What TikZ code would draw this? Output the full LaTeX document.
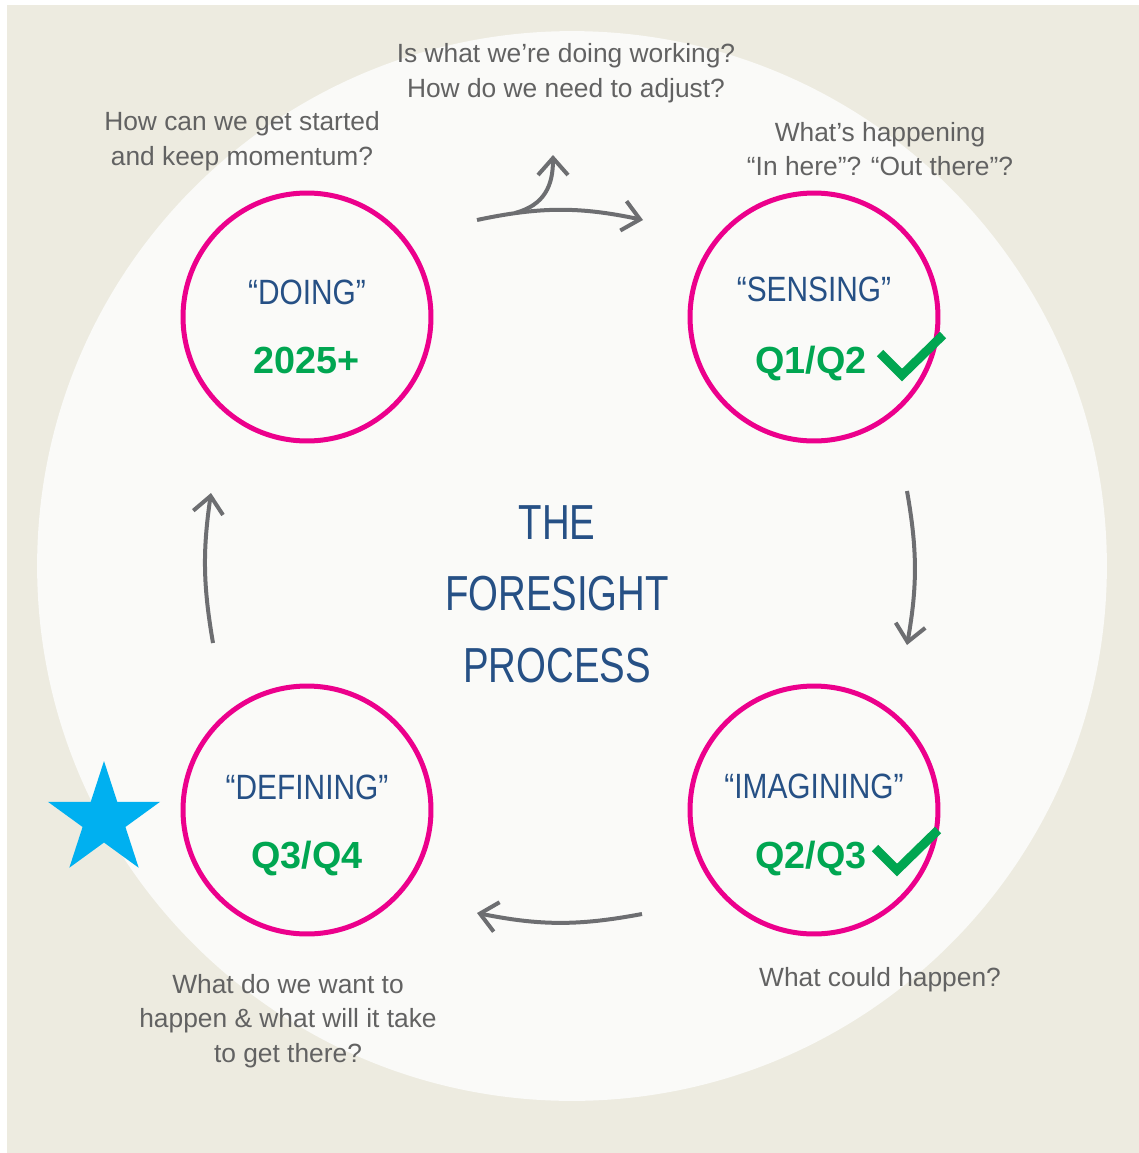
\documentclass[tikz,border=0pt]{standalone}
\usepackage{fontspec}
\setmainfont{Liberation Sans}
\newfontfamily\stagefont{Liberation Sans}[FakeStretch=0.85]
\newfontfamily\titlefont{Liberation Sans}[FakeStretch=0.78]
\usetikzlibrary{shapes.geometric,arrows.meta}
\definecolor{bgbeige}{RGB}{237,235,224}
\definecolor{disc}{RGB}{250,250,248}
\definecolor{ringpink}{RGB}{236,0,140}
\definecolor{navy}{RGB}{38,80,133}
\definecolor{okgreen}{RGB}{0,166,81}
\definecolor{starblue}{RGB}{0,176,240}
\definecolor{askgray}{RGB}{98,98,98}
\definecolor{arrowgray}{RGB}{109,110,113}
\tikzset{
  stage/.style={circle,draw=ringpink,line width=0.1cm,minimum size=4.96cm,inner sep=0pt},
  stagename/.style={text=navy,inner sep=0pt,font=\stagefont\fontsize{20}{24}\selectfont},
  period/.style={text=okgreen,inner sep=0pt,font=\bfseries\fontsize{21.5}{25}\selectfont},
  ask/.style={text=askgray,align=center,inner sep=0pt,font=\fontsize{15}{19.8}\selectfont},
  flow/.style={draw=arrowgray,line width=0.08cm,-{Straight Barb[length=3.4mm,width=6mm]}},
  tick/.style={draw=okgreen,line width=0.18cm}
}
\begin{document}
\begin{tikzpicture}[x=0.02cm,y=-0.02cm]
\useasboundingbox (0,0) rectangle (1139,1153);
\fill[bgbeige] (7,5) rectangle (1139,1153);
\fill[disc] (572,566) circle (10.7cm);

\node[stage] (doing) at (307,317) {};
\node[stage] (sensing) at (814,317) {};
\node[stage] (defining) at (307,810) {};
\node[stage] (imagining) at (814,810) {};

\node[stagename,yshift=0.5cm] (doingname) at (doing) {“DOING”};
\node[period,yshift=-0.86cm] (doingtime) at (doing) {2025+};
\node[stagename,yshift=0.56cm] (sensingname) at (sensing) {“SENSING”};
\node[period,yshift=-0.93cm,xshift=-0.06cm] (sensingtime) at (sensing) {Q1/Q2};
\node[stagename,yshift=0.46cm] (definingname) at (defining) {“DEFINING”};
\node[period,yshift=-0.98cm] (definingtime) at (defining) {Q3/Q4};
\node[stagename,yshift=0.48cm] (imaginingname) at (imagining) {“IMAGINING”};
\node[period,yshift=-0.98cm,xshift=-0.06cm] (imaginingtime) at (imagining) {Q2/Q3};

\draw[tick] (880,353) -- (902,375) -- (943,335);
\draw[tick] (875,848) -- (897,870) -- (938,830);

\node[star,star points=5,star point ratio=2.618,fill=starblue,minimum size=2.36cm,inner sep=0pt] (goal) at (104,820) {};

\node[text=navy,align=center,inner sep=0pt,font=\titlefont\fontsize{28}{40.8}\selectfont] (title) at (557,594) {THE\\FORESIGHT\\PROCESS};

\node[ask] (askadjust) at (566,73) {Is what we’re doing working?\\How do we need to adjust?};
\node[ask] (askstart) at (242,141) {How can we get started\\and keep momentum?};
\node[ask] (askhappening) at (880,149) {What’s happening\\“In here”? “Out there”?};
\node[ask] (askcould) at (880,980) {What could happen?};
\node[ask] (askwant) at (288,1021) {What do we want to\\happen \& what will it take\\to get there?};

\coordinate (topin) at (477,220);
\coordinate (topout) at (643,220);
\coordinate (forkin) at (515,213);
\coordinate (forkout) at (553,155);
\coordinate (rightin) at (907,491);
\coordinate (rightout) at (907,645);
\coordinate (bottomin) at (642,914);
\coordinate (bottomout) at (477,913);
\coordinate (leftin) at (213,643);
\coordinate (leftout) at (211,493);

\draw[flow] (topin) to[bend left=12] (topout);
\draw[flow] (forkin) .. controls (545,205) and (553,185) .. (forkout);
\draw[flow] (rightin) to[bend left=10] (rightout);
\draw[flow] (bottomin) to[bend left=11] (bottomout);
\draw[flow] (leftin) to[bend left=9] (leftout);
\end{tikzpicture}
\end{document}
